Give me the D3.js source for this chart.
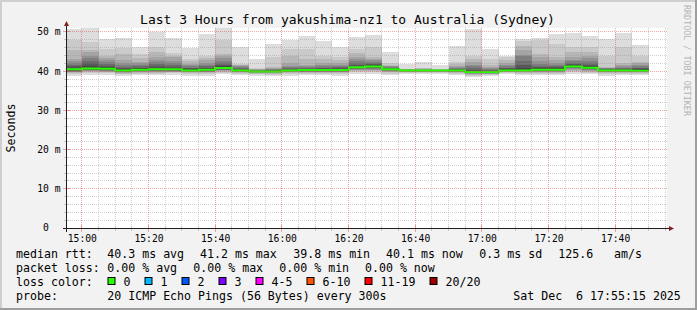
<!DOCTYPE html>
<html>
<head>
<meta charset="utf-8">
<script src="https://cdn.jsdelivr.net/npm/d3@7"></script>
<style>
  body { margin: 0; background: #f2f2f2; }
  svg { display: block; font-family: "DejaVu Sans Mono", monospace; }
  text { white-space: pre; }
</style>
</head>
<body>
<svg id="chart" width="697" height="310"></svg>
<script>
// 5 minute slots (start time of each step)
const slotLabels = ["14:55","15:00","15:05","15:10","15:15","15:20","15:25","15:30","15:35","15:40",
  "15:45","15:50","15:55","16:00","16:05","16:10","16:15","16:20","16:25","16:30",
  "16:35","16:40","16:45","16:50","16:55","17:00","17:05","17:10","17:15","17:20",
  "17:25","17:30","17:35","17:40","17:45"];

// median rtt per slot (ms)
const medianRtt = [40.5,40.7,40.6,40.2,40.4,40.5,40.5,40.2,40.4,40.8,
  40.2,39.9,39.9,40.2,40.3,40.3,40.3,41.0,41.2,40.5,
  40.2,40.2,40.2,40.2,39.8,39.8,40.2,40.2,40.4,40.4,
  41.2,40.9,40.2,40.2,40.1];

// the 20 sorted pings per slot (ms)
const pings = [
  [38.9,39.4,39.6,39.7,39.8,39.9,40.0,40.1,40.3,40.4,40.6,40.9,41.2,41.6,42.0,42.5,43.2,45.5,47.9,50.8],
  [39.0,39.5,39.8,40.0,40.1,40.2,40.3,40.4,40.5,40.6,40.9,41.4,42.0,42.6,43.3,44.0,44.8,45.5,47.4,51.1],
  [39.1,39.5,39.7,39.9,40.0,40.1,40.2,40.3,40.4,40.5,40.7,41.0,41.4,41.8,42.3,42.9,43.4,44.0,45.7,48.3],
  [38.8,39.2,39.4,39.6,39.7,39.8,39.9,40.0,40.1,40.2,40.3,40.5,40.8,41.1,41.5,42.0,42.9,44.5,46.0,48.5],
  [39.0,39.4,39.6,39.8,39.9,40.0,40.1,40.2,40.3,40.4,40.5,40.7,40.9,41.2,41.6,42.0,42.3,43.4,44.5,46.3],
  [39.0,39.4,39.6,39.8,39.9,40.0,40.1,40.2,40.3,40.4,40.6,40.9,41.3,41.8,42.3,42.9,43.6,44.8,46.2,50.0],
  [39.1,39.5,39.7,39.8,39.9,40.0,40.1,40.2,40.3,40.4,40.6,40.8,41.1,41.5,42.0,42.7,43.5,44.0,44.6,48.5],
  [38.9,39.3,39.5,39.7,39.8,39.9,40.0,40.1,40.2,40.2,40.3,40.5,40.7,40.9,41.2,41.5,41.9,42.5,43.2,46.0],
  [38.8,39.2,39.5,39.7,39.8,39.9,40.0,40.1,40.2,40.3,40.5,40.7,40.9,41.2,41.6,42.1,42.8,43.4,44.0,49.6],
  [39.3,39.6,39.8,40.0,40.2,40.3,40.4,40.5,40.6,40.7,40.9,41.2,41.6,42.1,42.6,43.3,44.0,44.5,47.9,51.1],
  [39.0,39.4,39.6,39.7,39.8,39.9,40.0,40.1,40.1,40.2,40.3,40.4,40.6,40.8,41.0,41.2,41.5,41.7,41.9,46.2],
  [38.9,39.2,39.4,39.5,39.6,39.7,39.7,39.8,39.8,39.9,40.0,40.0,40.1,40.2,40.3,40.4,40.5,40.6,40.7,43.2],
  [38.8,39.1,39.3,39.5,39.6,39.7,39.7,39.8,39.8,39.9,40.0,40.1,40.2,40.3,40.5,40.6,40.8,41.1,43.6,46.9],
  [38.9,39.3,39.5,39.7,39.8,39.9,40.0,40.1,40.1,40.2,40.3,40.4,40.6,40.8,41.0,41.3,42.0,44.0,45.7,47.9],
  [39.0,39.3,39.5,39.7,39.8,39.9,40.0,40.1,40.2,40.3,40.4,40.5,40.6,40.8,41.0,41.2,41.5,43.0,45.7,49.1],
  [39.0,39.4,39.6,39.7,39.8,39.9,40.0,40.1,40.2,40.3,40.4,40.5,40.7,40.9,41.2,41.6,42.1,43.0,44.0,47.7],
  [38.9,39.3,39.5,39.7,39.8,39.9,40.0,40.1,40.2,40.3,40.4,40.6,40.8,41.0,41.3,41.7,42.2,42.8,43.6,46.3],
  [39.3,39.7,40.0,40.2,40.4,40.5,40.6,40.7,40.8,40.9,41.1,41.4,41.7,42.1,42.5,43.0,43.6,44.6,45.7,48.8],
  [39.3,39.7,40.0,40.2,40.4,40.6,40.8,40.9,41.0,41.1,41.3,41.5,41.8,42.1,42.4,42.8,43.1,43.6,46.2,49.2],
  [39.0,39.4,39.7,39.9,40.0,40.1,40.2,40.3,40.4,40.5,40.6,40.7,40.8,40.9,41.0,41.2,41.4,41.7,42.1,44.9],
  [39.2,39.5,39.7,39.8,39.9,40.0,40.0,40.1,40.1,40.2,40.2,40.3,40.3,40.4,40.4,40.5,40.5,40.6,40.6,41.9],
  [39.3,39.6,39.7,39.8,39.9,40.0,40.0,40.1,40.1,40.2,40.2,40.3,40.3,40.4,40.4,40.5,40.6,40.7,40.9,42.3],
  [39.4,39.6,39.8,39.9,39.9,40.0,40.0,40.1,40.1,40.2,40.2,40.3,40.3,40.3,40.4,40.4,40.5,40.5,40.6,41.7],
  [39.1,39.4,39.6,39.7,39.8,39.9,40.0,40.1,40.1,40.2,40.3,40.4,40.5,40.6,40.8,41.0,41.3,41.8,42.3,46.5],
  [38.5,38.9,39.1,39.3,39.4,39.5,39.6,39.7,39.7,39.8,39.9,40.1,40.4,40.8,41.2,41.7,42.3,43.0,44.0,50.8],
  [38.7,39.0,39.2,39.3,39.4,39.5,39.6,39.7,39.7,39.8,39.9,40.0,40.1,40.3,40.5,40.7,41.0,41.5,43.2,45.7],
  [39.2,39.5,39.7,39.8,39.9,40.0,40.1,40.1,40.2,40.2,40.3,40.5,40.7,40.9,41.2,41.6,42.1,42.9,43.6,44.0],
  [39.1,39.4,39.6,39.8,39.9,40.0,40.1,40.1,40.2,40.2,40.4,40.8,41.5,42.5,43.8,44.2,45.3,46.5,47.7,48.3],
  [39.1,39.4,39.6,39.8,39.9,40.0,40.1,40.2,40.3,40.3,40.5,40.7,41.0,41.4,41.9,42.6,43.5,44.5,47.9,48.5],
  [39.0,39.4,39.6,39.8,39.9,40.0,40.1,40.2,40.3,40.3,40.5,40.7,41.0,41.3,41.7,42.2,42.9,43.6,47.0,49.6],
  [39.2,39.7,40.0,40.3,40.5,40.7,40.8,40.9,41.0,41.1,41.3,41.5,41.8,42.1,42.5,42.9,43.6,44.8,46.2,49.7],
  [39.2,39.6,39.9,40.1,40.3,40.4,40.5,40.6,40.7,40.8,41.0,41.3,41.7,42.2,42.7,43.3,44.0,45.0,46.2,48.9],
  [38.9,39.3,39.5,39.7,39.8,39.9,40.0,40.1,40.1,40.2,40.3,40.4,40.5,40.6,40.7,40.8,40.9,41.1,44.0,48.3],
  [39.0,39.3,39.5,39.7,39.8,39.9,40.0,40.1,40.1,40.2,40.3,40.4,40.5,40.7,40.9,41.2,41.6,42.0,46.2,49.7],
  [39.0,39.3,39.5,39.7,39.8,39.9,40.0,40.0,40.1,40.1,40.3,40.5,40.7,40.9,41.2,41.6,42.0,42.3,44.0,46.8]
];

const yTickValues = [0, 10, 20, 30, 40, 50];
const yTickLabels = ["0  ", "10 m", "20 m", "30 m", "40 m", "50 m"];
const xTickLabels = ["15:00", "15:20", "15:40", "16:00", "16:20", "16:40", "17:00", "17:20", "17:40"];

const rttStats = ["40.3 ms avg", "41.2 ms max", "39.8 ms min", "40.1 ms now", "0.3 ms sd", "125.6", "am/s"];
const lossStats = ["0.00 % avg", "0.00 % max", "0.00 % min", "0.00 % now"];
const lossLabels = ["0", "1", "2", "3", "4-5", "6-10", "11-19", "20/20"];
const lossColors = ["#26ff00", "#00b8ff", "#0059ff", "#7e00ff", "#ff00ff", "#ff5500", "#ff0000", "#a10000"];
const probeText = "20 ICMP Echo Pings (56 Bytes) every 300s";
const dateText = "Sat Dec  6 17:55:15 2025";
const titleText = "Last 3 Hours from yakushima-nz1 to Australia (Sydney)";

const svg = d3.select("#chart");
const W = 697, H = 310;

const toTime = s => { const p = s.split(":").map(Number); return new Date(2025, 11, 6, p[0], p[1], p[2] || 0); };
const tStart = toTime("14:55:15"), tEnd = toTime("17:55:15");

const x = d3.scaleTime().domain([tStart, tEnd]).range([66, 666]);
const y = d3.scaleLinear().domain([0, 51.02]).range([228, 28]);
const crisp = v => Math.floor(v) + 0.5;

// background + 3d frame
svg.append("rect").attr("width", W).attr("height", H).attr("fill", "#f2f2f2");
svg.append("rect").attr("x", 0).attr("y", 0).attr("width", W).attr("height", 2).attr("fill", "#cfcfcf");
svg.append("rect").attr("x", 0).attr("y", 0).attr("width", 2).attr("height", H).attr("fill", "#cfcfcf");
svg.append("rect").attr("x", 0).attr("y", H - 2).attr("width", W).attr("height", 2).attr("fill", "#9e9e9e");
svg.append("rect").attr("x", W - 2).attr("y", 0).attr("width", 2).attr("height", H).attr("fill", "#9e9e9e");

// canvas
svg.append("rect").attr("x", 66).attr("y", 28).attr("width", 601).attr("height", 200).attr("fill", "#fff");

// smoke layers
const half = pings[0].length / 2;
const layers = [];
pings.forEach((p, i) => {
  const t0 = d3.max([toTime(slotLabels[i]), tStart]);
  const t1 = d3.timeMinute.offset(toTime(slotLabels[i]), 5);
  for (let k = 1; k <= half; k++) {
    const g = Math.floor(190 / half * (half - k)) + 50;
    layers.push({ t0, t1, lo: p[k - 1], hi: p[p.length - k], col: d3.rgb(g, g, g) });
  }
});
svg.append("g").selectAll("rect").data(layers).join("rect")
  .attr("x", d => Math.round(x(d.t0)))
  .attr("width", d => Math.round(x(d.t1)) - Math.round(x(d.t0)))
  .attr("y", d => Math.round(y(d.hi)))
  .attr("height", d => Math.max(1, Math.round(y(d.lo)) - Math.round(y(d.hi))))
  .attr("fill", d => d.col)
  .attr("shape-rendering", "crispEdges");

// median line, colour = loss 0
const medPts = medianRtt.map((m, i) => [d3.max([toTime(slotLabels[i]), tStart]), m]);
medPts.push([d3.timeMinute.offset(toTime(slotLabels[slotLabels.length - 1]), 5), medianRtt[medianRtt.length - 1]]);
svg.append("path")
  .attr("d", d3.line().x(d => Math.round(x(d[0]))).y(d => y(d[1])).curve(d3.curveStepAfter)(medPts))
  .attr("fill", "none").attr("stroke", lossColors[0]).attr("stroke-width", 2);

// grid
const minorCol = "rgba(143,143,143,0.42)", majorCol = "rgba(222,79,79,0.5)";
const grid = svg.append("g").attr("stroke-dasharray", "1,1").attr("stroke-width", 1).attr("shape-rendering", "crispEdges");
const minorY = d3.range(2, 51, 2).filter(v => v % 10 !== 0);
grid.selectAll(".hy").data(minorY).join("line")
  .attr("x1", 66).attr("x2", 667).attr("y1", d => crisp(y(d))).attr("y2", d => crisp(y(d))).attr("stroke", minorCol);
grid.selectAll(".hY").data(yTickValues.slice(1)).join("line")
  .attr("x1", 66).attr("x2", 667).attr("y1", d => crisp(y(d))).attr("y2", d => crisp(y(d))).attr("stroke", majorCol);
const minorX = d3.timeMinute.every(5).range(tStart, tEnd).filter(t => t.getMinutes() % 20 !== 0);
const majorX = d3.timeMinute.every(20).range(tStart, tEnd);
grid.selectAll(".vx").data(minorX).join("line")
  .attr("y1", 28).attr("y2", 228).attr("x1", d => crisp(x(d))).attr("x2", d => crisp(x(d))).attr("stroke", minorCol);
grid.selectAll(".vX").data(majorX).join("line")
  .attr("y1", 28).attr("y2", 228).attr("x1", d => crisp(x(d))).attr("x2", d => crisp(x(d))).attr("stroke", majorCol);

// ticks
const ticks = svg.append("g").attr("stroke-width", 1).attr("shape-rendering", "crispEdges");
ticks.selectAll(".ty").data(minorY).join("line")
  .attr("x1", 64).attr("x2", 69).attr("y1", d => crisp(y(d))).attr("y2", d => crisp(y(d))).attr("stroke", minorCol);
ticks.selectAll(".tY").data(yTickValues).join("line")
  .attr("x1", 63).attr("x2", 70).attr("y1", d => crisp(y(d))).attr("y2", d => crisp(y(d))).attr("stroke", majorCol);
ticks.selectAll(".tx").data(minorX).join("line")
  .attr("y1", 226).attr("y2", 231).attr("x1", d => crisp(x(d))).attr("x2", d => crisp(x(d))).attr("stroke", minorCol);
ticks.selectAll(".tX").data(majorX).join("line")
  .attr("y1", 225).attr("y2", 232).attr("x1", d => crisp(x(d))).attr("x2", d => crisp(x(d))).attr("stroke", majorCol);

// axes + arrows
svg.append("line").attr("x1", 63).attr("x2", 670).attr("y1", 228.5).attr("y2", 228.5)
  .attr("stroke", "#1f1f1f").attr("shape-rendering", "crispEdges");
svg.append("line").attr("x1", 66.5).attr("x2", 66.5).attr("y1", 232).attr("y2", 25)
  .attr("stroke", "#1f1f1f").attr("shape-rendering", "crispEdges");
svg.append("path").attr("d", "M64,26L69,26L66.5,21Z").attr("fill", "#801f1f");
svg.append("path").attr("d", "M669,226L669,231L674,228.5Z").attr("fill", "#801f1f");

// axis labels
svg.append("g").selectAll("text").data(yTickValues).join("text")
  .attr("x", 60.5).attr("y", d => y(d) + 3.4).attr("text-anchor", "end")
  .attr("font-size", 9.7).text((d, i) => yTickLabels[i]);
svg.append("g").selectAll("text").data(majorX).join("text")
  .attr("x", d => x(d) + 0.5).attr("y", 241.5).attr("text-anchor", "middle")
  .attr("font-size", 9.7).text((d, i) => xTickLabels[i]);

// title
svg.append("text").attr("x", 347.5).attr("y", 24).attr("text-anchor", "middle")
  .attr("font-size", 13).text(titleText);

// y title
svg.append("text").attr("transform", "translate(15,128) rotate(-90)").attr("text-anchor", "middle")
  .attr("font-size", 11.6).text("Seconds");

// watermark
svg.append("text").attr("transform", "translate(684,5) rotate(90)")
  .attr("font-size", 8.4).attr("fill", "#b4b4b4").text("RRDTOOL / TOBI OETIKER");

// legend
const fs = 11.6;
const legend = svg.append("g").attr("font-size", fs);
const row1 = [16, 107.3, 200, 293.3, 386, 479.3, 558.3, 614];
legend.append("text").attr("x", row1[0]).attr("y", 258).text("median rtt:");
rttStats.forEach((s, i) => legend.append("text").attr("x", row1[i + 1]).attr("y", 258).text(s));
const row2 = [16, 107.3, 193.3, 279.3, 365];
legend.append("text").attr("x", row2[0]).attr("y", 272).text("packet loss:");
lossStats.forEach((s, i) => legend.append("text").attr("x", row2[i + 1]).attr("y", 272).text(s));
legend.append("text").attr("x", 16).attr("y", 286).text("loss color:");
let bx = 107.5;
lossLabels.forEach((l, i) => {
  legend.append("rect").attr("x", bx + 0.5).attr("y", 277.5).attr("width", 7).attr("height", 7)
    .attr("fill", lossColors[i]).attr("stroke", "#000").attr("stroke-width", 1);
  legend.append("text").attr("x", bx + 16).attr("y", 286).text(l);
  bx += 16 + l.length * 7 + 14;
});
legend.append("text").attr("x", 16).attr("y", 299.5).text("probe:");
legend.append("text").attr("x", 107.3).attr("y", 299.5).text(probeText);
legend.append("text").attr("x", 513.3).attr("y", 299.5).text(dateText);
</script>
</body>
</html>
